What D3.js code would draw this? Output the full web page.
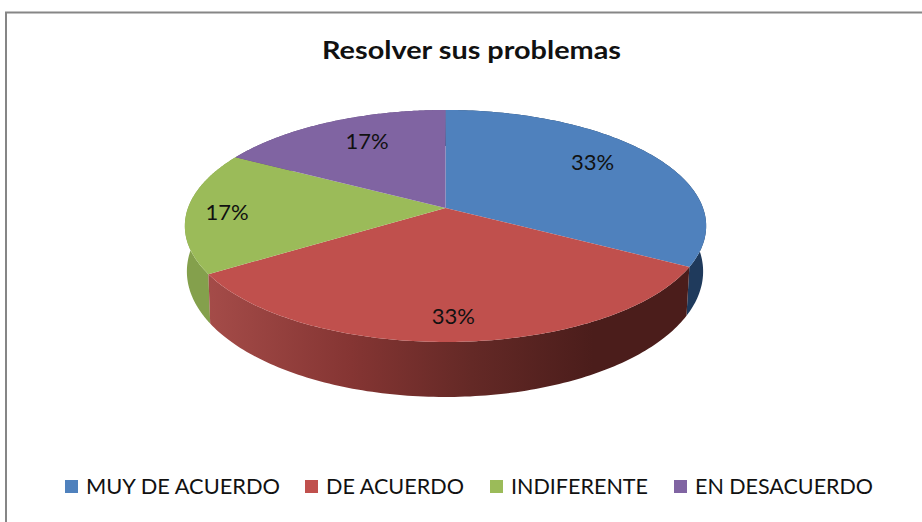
<!DOCTYPE html>
<html><head><meta charset="utf-8">
<script src="https://cdnjs.cloudflare.com/ajax/libs/d3/7.8.5/d3.min.js"></script>
<style>html,body{margin:0;padding:0;background:#fff;overflow:hidden}svg{display:block}
text{font-family:Lato,sans-serif;fill:#111}</style></head><body>
<svg id="c" width="922" height="522"></svg>
<script>
const title = "Resolver sus problemas";
const categories = ["MUY DE ACUERDO","DE ACUERDO","INDIFERENTE","EN DESACUERDO"];
const values = [33,33,17,17];
const topColors = ["#4f81bd","#c0504d","#9bbb59","#8064a2"];
const wallColors = ["#1f3a5c","url(#redWall)","#84a04c","#5f4a7a"];

const svg=d3.select("#c");
const defs=svg.append("defs");
const g=defs.append("linearGradient").attr("id","redWall").attr("gradientUnits","userSpaceOnUse")
  .attr("x1",205).attr("x2",690).attr("y1",0).attr("y2",0);
[[0,"#a54c49"],[0.3,"#853533"],[0.55,"#642926"],[0.8,"#4b1d1b"],[1,"#4b1d1b"]].forEach(s=>g.append("stop").attr("offset",s[0]).attr("stop-color",s[1]));

svg.append("path").attr("d","M6,522V12.5H922").attr("fill","none").attr("stroke","#868686").attr("stroke-width",2);

svg.append("text").attr("x",471.5).attr("y",59).attr("text-anchor","middle")
  .attr("font-size",24.5).attr("font-weight",700).attr("textLength",299).attr("lengthAdjust","spacingAndGlyphs").text(title);

const p=0.155;
const topRim={cx:445.5,cy:208,a:257.5,b:113.2};
const lowRim={cx:445,cy:252,a:255,b:122.5};
function proj(rim,theta,r=1){
  const u=Math.sin(theta)*r,v=Math.cos(theta)*r,w=1+p*v;
  return [rim.cx+rim.a*u/w, rim.cy-rim.b*v/w];
}
const pie=d3.pie().sort(null).value(d=>d)(values);
const line=d3.line();
const arcPts=(rim,a0,a1)=>d3.range(0,121).map(i=>proj(rim,a0+(a1-a0)*i/120));

const wallOrder=[0,2,3,1];
svg.append("g").selectAll("path").data(wallOrder).join("path")
  .attr("d",i=>{const s=pie[i];return line(arcPts(topRim,s.startAngle,s.endAngle).concat(arcPts(lowRim,s.startAngle,s.endAngle).reverse()))+"Z";})
  .attr("fill",i=>wallColors[i]);

svg.append("g").selectAll("path").data(pie).join("path")
  .attr("d",s=>line([[topRim.cx,topRim.cy]].concat(arcPts(topRim,s.startAngle,s.endAngle)))+"Z")
  .attr("fill",(s,i)=>topColors[i]);

const labelRadius=[0.70,0.83,0.845,0.65], labelShift=[-8,0,1,-9];
svg.append("g").selectAll("text").data(pie).join("text")
  .attr("transform",(s,i)=>{const c=proj(topRim,(s.startAngle+s.endAngle)/2,labelRadius[i]);return `translate(${c[0]},${c[1]+labelShift[i]})`;})
  .attr("text-anchor","middle").attr("dy","0.36em").attr("font-size",22)
  .text(s=>s.value+"%");

const legX=[65,305,490,674], legTextW=[194,138,137,178];
const leg=svg.append("g").selectAll("g").data(categories).join("g").attr("transform",(d,i)=>`translate(${legX[i]},480)`);
leg.append("rect").attr("width",13).attr("height",13).attr("fill",(d,i)=>topColors[i]);
leg.append("text").attr("x",21).attr("y",13.5).attr("font-size",21)
  .attr("textLength",(d,i)=>legTextW[i]).attr("lengthAdjust","spacingAndGlyphs").text(d=>d);
</script></body></html>
